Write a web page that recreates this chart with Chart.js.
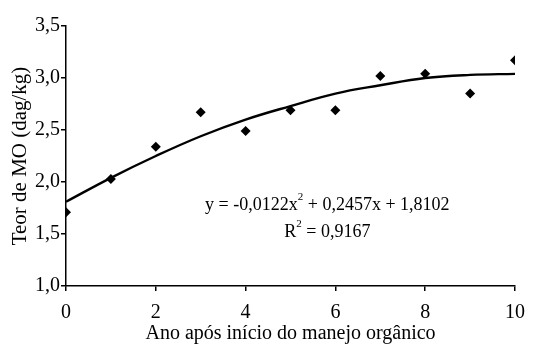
<!DOCTYPE html>
<html>
<head>
<meta charset="utf-8">
<script src="https://cdn.jsdelivr.net/npm/chart.js@4.4.0/dist/chart.umd.min.js"></script>
<style>
html,body{margin:0;padding:0;background:#fff;}
#wrap{width:538px;height:344px;position:relative;}
</style>
</head>
<body>
<div id="wrap"><canvas id="c" width="538" height="344"></canvas></div>
<script>
const years = [0,1,2,3,4,5,6,7,8,9,10];
const teorMO = [1.71,2.03,2.34,2.67,2.49,2.69,2.69,3.02,3.04,2.85,3.17];
const trendMO = [1.81,2.04,2.25,2.44,2.60,2.73,2.85,2.93,3.00,3.03,3.04];
const yTicks = [1.0,1.5,2.0,2.5,3.0,3.5];
const xTicks = [0,2,4,6,8,10];
const xTitle = 'Ano após início do manejo orgânico';
const yTitle = 'Teor de MO (dag/kg)';
const eqLine1 = ['y = -0,0122x', '2', ' + 0,2457x + 1,8102'];
const eqLine2 = ['R', '2', ' = 0,9167'];

const FONT = "'Liberation Serif', 'Times New Roman', serif";

const eqPlugin = {
  id: 'eq',
  afterDatasetsDraw(chart) {
    const ctx = chart.ctx;
    const xs = chart.scales.x, ys = chart.scales.y;
    function drawLine(parts, cx, cy) {
      const big = '18px ' + FONT, small = '11px ' + FONT;
      ctx.font = big; const w0 = ctx.measureText(parts[0]).width;
      ctx.font = small; const w1 = ctx.measureText(parts[1]).width;
      ctx.font = big; const w2 = ctx.measureText(parts[2]).width;
      let x = cx - (w0 + w1 + w2) / 2;
      ctx.fillStyle = '#000';
      ctx.textBaseline = 'middle';
      ctx.textAlign = 'left';
      ctx.font = big; ctx.fillText(parts[0], x, cy); x += w0;
      ctx.font = small; ctx.fillText(parts[1], x, cy - 8); x += w1;
      ctx.font = big; ctx.fillText(parts[2], x, cy);
    }
    ctx.save();
    drawLine(eqLine1, xs.getPixelForValue(5.82), ys.getPixelForValue(1.78));
    drawLine(eqLine2, xs.getPixelForValue(5.82), ys.getPixelForValue(1.52));
    ctx.restore();
  }
};

new Chart(document.getElementById('c'), {
  type: 'scatter',
  data: {
    datasets: [
      {
        type: 'line',
        data: years.map((x, i) => ({x: x, y: trendMO[i]})),
        borderColor: '#000',
        borderWidth: 2.4,
        pointRadius: 0,
        tension: 0.4,
        fill: false,
        order: 2
      },
      {
        data: years.map((x, i) => ({x: x, y: teorMO[i]})),
        pointStyle: 'rectRot',
        pointRadius: 5,
        backgroundColor: '#000',
        borderColor: '#000',
        borderWidth: 0,
        order: 1
      }
    ]
  },
  plugins: [eqPlugin],
  options: {
    responsive: false,
    animation: false,
    devicePixelRatio: 1,
    layout: {padding: {left: 0, right: 23, top: 26, bottom: -2}},
    plugins: {legend: {display: false}, tooltip: {enabled: false}},
    scales: {
      x: {
        type: 'linear', min: 0, max: 10,
        afterBuildTicks(s) { s.ticks = xTicks.map(v => ({value: v})); },
        afterFit(s) { s.height = 60; },
        border: {display: true, color: '#000', width: 1.5},
        grid: {display: true, drawOnChartArea: false, drawTicks: true, tickLength: 5, color: '#000', lineWidth: 1.5},
        ticks: {color: '#000', font: {family: FONT, size: 20}, padding: 10, maxRotation: 0},
        title: {display: true, text: xTitle, color: '#000', font: {family: FONT, size: 20}, padding: {top: 2, bottom: 0}}
      },
      y: {
        type: 'linear', min: 1.0, max: 3.5,
        afterBuildTicks(s) { s.ticks = yTicks.map(v => ({value: v})); },
        afterFit(s) { s.width = 66; },
        border: {display: true, color: '#000', width: 1.5},
        grid: {display: true, drawOnChartArea: false, drawTicks: true, tickLength: 5, color: '#000', lineWidth: 1.5},
        ticks: {color: '#000', font: {family: FONT, size: 20}, padding: 1,
          callback: v => v.toFixed(1).replace('.', ',')},
        title: {display: true, text: yTitle, color: '#000', font: {family: FONT, size: 21}, padding: {top: 8, bottom: 0}}
      }
    }
  }
});
</script>
</body>
</html>
